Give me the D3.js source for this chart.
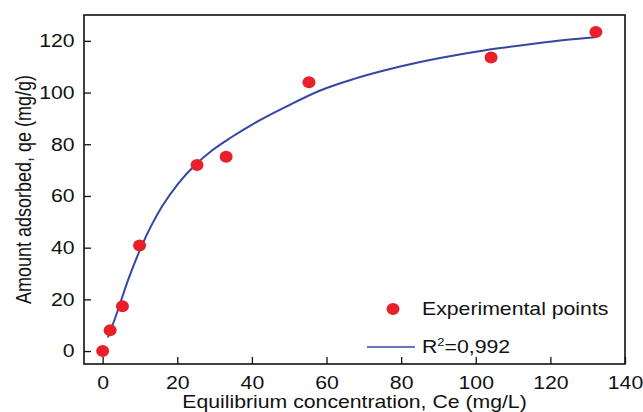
<!DOCTYPE html>
<html>
<head>
<meta charset="utf-8">
<script src="https://cdn.jsdelivr.net/npm/d3@7"></script>
<style>
  body { margin: 0; background: #fff; }
  svg { display: block; font-family: "Liberation Sans", Arial, sans-serif; }
</style>
</head>
<body>
<svg></svg>
<script>
// experimental points
const ceObs = [0, 2, 5.3, 9.9, 25.3, 33.1, 55.3, 104.1, 132.2];
const qeObs = [0, 8.1, 17.3, 40.8, 72, 75.2, 104, 113.6, 123.4];

// fitted curve
const ceFit = [1.4, 3.4, 6.9, 10.5, 15.9, 20.3, 24.8, 29.3, 34.6, 40.4, 49.4, 58.3, 67.2, 76.2, 85.1, 97.6, 106.6, 115.5, 124.5, 132];
const qeFit = [5.3, 13.0, 27.8, 40.8, 55.9, 64.9, 72.0, 77.6, 82.8, 87.9, 94.7, 100.8, 105.2, 108.8, 111.8, 115.2, 117.2, 118.9, 120.4, 121.4];

const xTicks = [0, 20, 40, 60, 80, 100, 120, 140];
const yTicks = [0, 20, 40, 60, 80, 100, 120];

const width = 643;
const height = 412;
const margin = {left: 84, right: 18, top: 15, bottom: 48};
const stretch = 1.18; // the reference text is drawn wider than normal

const svg = d3.select('svg')
  .attr('width', width)
  .attr('height', height);

const x = d3.scaleLinear()
  .domain([-5, 140])
  .range([margin.left, width - margin.right]);

const y = d3.scaleLinear()
  .domain([-5, 130])
  .range([height - margin.bottom, margin.top]);

const red = '#e8202a';
const blue = '#3347a6';

// x axis, ticks pointing in
svg.append('g')
  .attr('transform', `translate(0,${y(-5)})`)
  .call(d3.axisBottom(x).tickValues(xTicks).tickSizeInner(-7).tickSizeOuter(0).tickPadding(12))
  .call(g => g.select('.domain').remove())
  .call(g => g.selectAll('.tick line').attr('stroke', '#111').attr('stroke-width', 1.3))
  .call(g => g.selectAll('.tick text')
    .attr('font-size', 18).attr('fill', '#111')
    .attr('transform', `scale(${stretch},1)`));

svg.append('g')
  .attr('transform', `translate(${x(-5)},0)`)
  .call(d3.axisLeft(y).tickValues(yTicks).tickSizeInner(-7).tickSizeOuter(0).tickPadding(8))
  .call(g => g.select('.domain').remove())
  .call(g => g.selectAll('.tick line').attr('stroke', '#111').attr('stroke-width', 1.3))
  .call(g => g.selectAll('.tick text')
    .attr('font-size', 18).attr('fill', '#111')
    .attr('transform', `scale(${stretch},1)`));

// frame
svg.append('rect')
  .attr('x', x(-5))
  .attr('y', y(130))
  .attr('width', x(140) - x(-5))
  .attr('height', y(-5) - y(130))
  .attr('fill', 'none')
  .attr('stroke', '#111')
  .attr('stroke-width', 1.6);

const fit = ceFit.map((c, i) => [c, qeFit[i]]);
const line = d3.line()
  .x(d => x(d[0]))
  .y(d => y(d[1]))
  .curve(d3.curveMonotoneX);

svg.append('path')
  .datum(fit)
  .attr('d', line)
  .attr('fill', 'none')
  .attr('stroke', blue)
  .attr('stroke-width', 2);

svg.append('g')
  .selectAll('ellipse')
  .data(ceObs)
  .enter().append('ellipse')
    .attr('cx', d => x(d))
    .attr('cy', (d, i) => y(qeObs[i]))
    .attr('rx', 6.5)
    .attr('ry', 6)
    .attr('fill', red);

function label(px, py, size) {
  return svg.append('text')
    .attr('transform', `translate(${px},${py}) scale(${stretch},1)`)
    .attr('font-size', size)
    .attr('fill', '#111');
}

// legend
svg.append('ellipse')
  .attr('cx', 393).attr('cy', 309)
  .attr('rx', 6.5).attr('ry', 6)
  .attr('fill', red);
label(422, 315, 18).text('Experimental points');
svg.append('line')
  .attr('x1', 367).attr('x2', 415)
  .attr('y1', 347).attr('y2', 347)
  .attr('stroke', blue).attr('stroke-width', 1.6);
const r2 = label(422, 353, 18);
r2.append('tspan').text('R');
r2.append('tspan').attr('dy', -7).attr('font-size', 11).text('2');
r2.append('tspan').attr('dy', 7).text('=0,992');

// axis titles
label((x(-5) + x(140)) / 2, 408, 18)
  .attr('text-anchor', 'middle')
  .text('Equilibrium concentration, Ce (mg/L)');

svg.append('text')
  .attr('transform', `translate(31,${(y(-5) + y(130)) / 2}) scale(${stretch},1) rotate(-90)`)
  .attr('text-anchor', 'middle')
  .attr('font-size', 18).attr('fill', '#111')
  .text('Amount adsorbed, qe (mg/g)');
</script>
</body>
</html>
